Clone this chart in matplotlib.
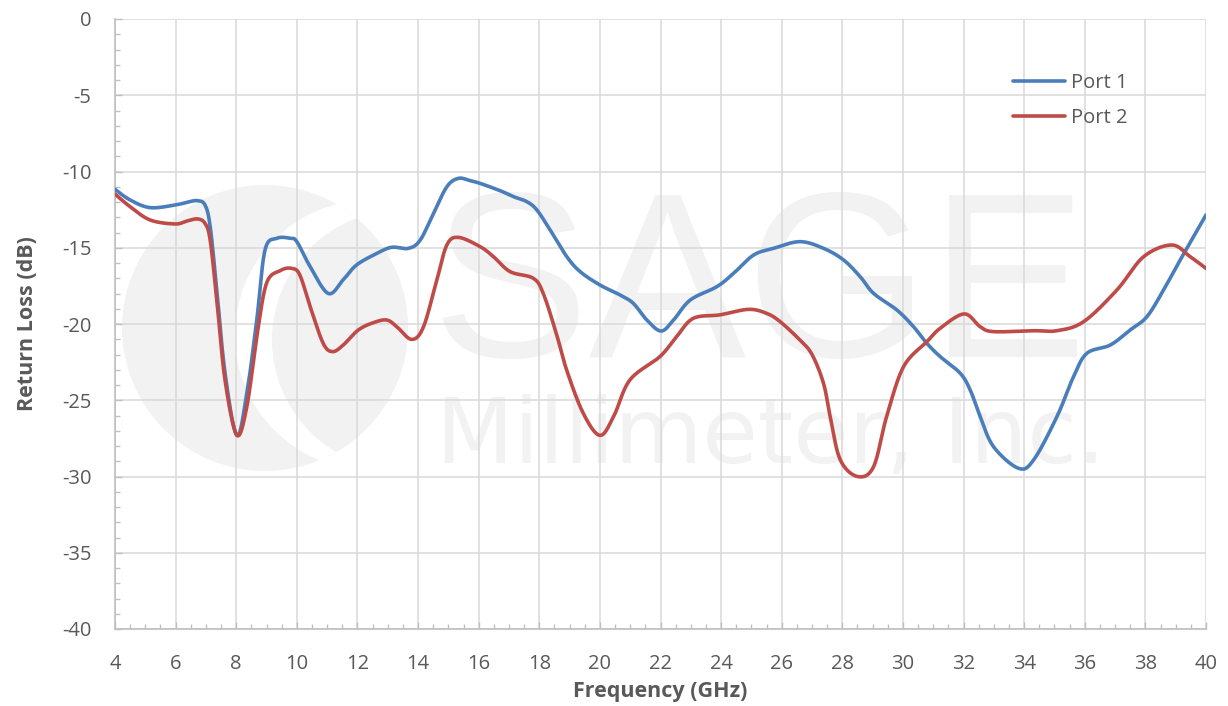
import numpy as np
import matplotlib
matplotlib.use("Agg")
import matplotlib.pyplot as plt
from matplotlib.patches import Circle
from matplotlib.ticker import MultipleLocator, FixedLocator

# Measured return loss, port 1 (frequency in GHz, return loss in dB)
port1_freq = [4.0, 4.5, 5.16, 5.98, 6.37, 6.72, 6.97, 7.14, 7.36, 7.63, 8.02, 8.35,
              8.68, 8.95, 9.34, 9.78, 10.0, 10.44, 11.04, 11.53, 11.97, 12.64, 13.13,
              13.68, 14.07, 14.51, 14.95, 15.33, 15.72, 16.05, 16.71, 17.15, 17.59,
              17.92, 18.36, 18.91, 19.35, 20.0, 20.67, 21.1, 21.55, 22.02, 22.43,
              22.98, 23.86, 24.41, 25.07, 25.73, 26.6, 27.38, 28.04, 28.59, 29.03,
              29.8, 30.35, 30.79, 31.23, 31.89, 32.22, 32.55, 32.99, 33.81, 34.31,
              35.08, 35.63, 36.07, 36.84, 37.5, 38.05, 38.6, 39.15, 40.0]
port1_rl = [-11.17, -11.87, -12.37, -12.2, -12.02, -11.91, -12.2, -13.6, -17.8, -23.2,
            -27.3, -24.55, -19.7, -15.15, -14.38, -14.38, -14.6, -16.24, -18.0, -17.1,
            -16.13, -15.37, -14.97, -15.04, -14.5, -12.74, -11.0, -10.45, -10.6,
            -10.78, -11.26, -11.65, -11.98, -12.52, -13.84, -15.59, -16.57, -17.44,
            -18.1, -18.64, -19.74, -20.46, -19.74, -18.43, -17.55, -16.68, -15.48,
            -15.04, -14.6, -15.04, -15.8, -16.9, -17.99, -19.08, -20.18, -21.27,
            -22.14, -23.23, -24.33, -26.08, -28.05, -29.46, -28.92, -26.08, -23.45,
            -21.92, -21.38, -20.39, -19.52, -17.77, -15.8, -12.85]

# Measured return loss, port 2
port2_freq = [4.0, 4.5, 5.16, 5.98, 6.37, 6.72, 6.97, 7.14, 7.36, 7.63, 8.02, 8.35,
              8.68, 9.0, 9.45, 9.83, 10.1, 10.44, 10.87, 11.18, 11.53, 12.03, 12.53,
              12.97, 13.3, 13.79, 14.18, 14.62, 14.95, 15.33, 16.05, 16.49, 17.04,
              17.8, 18.13, 18.56, 18.9, 19.45, 20.0, 20.45, 20.99, 21.98, 22.53,
              23.08, 23.96, 24.9, 25.5, 25.95, 26.6, 27.0, 27.38, 27.6, 27.93, 28.5,
              29.03, 29.46, 30.02, 30.79, 31.23, 32.02, 32.55, 32.99, 34.31, 35.08,
              35.96, 37.06, 37.94, 38.87, 39.48, 40.0]
port2_rl = [-11.48, -12.31, -13.18, -13.44, -13.25, -13.11, -13.4, -14.49, -18.43,
            -23.67, -27.28, -25.42, -20.83, -17.33, -16.5, -16.35, -16.79, -18.87,
            -21.27, -21.81, -21.38, -20.39, -19.91, -19.74, -20.18, -21.01, -20.18,
            -17.11, -14.82, -14.32, -14.93, -15.59, -16.57, -17.0, -17.99, -20.61,
            -23.0, -25.85, -27.3, -26.08, -23.67, -22.14, -20.83, -19.63, -19.4,
            -19.04, -19.3, -19.85, -21.05, -22.0, -23.9, -26.08, -28.9, -30.0,
            -29.36, -26.08, -22.8, -21.16, -20.28, -19.34, -20.18, -20.5, -20.44,
            -20.44, -19.85, -17.77, -15.59, -14.82, -15.59, -16.35]

series_names = ["Port 1", "Port 2"]
series_colors = ["#4A7EBB", "#BE4B48"]
x_ticks = list(range(4, 41, 2))
y_ticks = list(range(-40, 1, 5))


def smooth_curve(x, y, steps=16):
    """Catmull-Rom spline through the points (smoothed line rendering)."""
    p = np.column_stack([x, y]).astype(float)
    p = np.vstack([p[0], p, p[-1]])
    t = np.linspace(0, 1, steps, endpoint=False)[:, None]
    out = []
    for i in range(1, len(p) - 2):
        p0, p1, p2, p3 = p[i - 1], p[i], p[i + 1], p[i + 2]
        seg = 0.5 * ((2 * p1) + (-p0 + p2) * t
                     + (2 * p0 - 5 * p1 + 4 * p2 - p3) * t ** 2
                     + (-p0 + 3 * p1 - 3 * p2 + p3) * t ** 3)
        out.append(seg)
    out.append(p[-2][None, :])
    out = np.vstack(out)
    return out[:, 0], out[:, 1]


plt.rcParams["font.family"] = ["Open Sans", "DejaVu Sans"]
plt.rcParams["axes.unicode_minus"] = False

W, H = 1228, 706
fig = plt.figure(figsize=(W / 100, H / 100), dpi=100)
ax = fig.add_axes([115 / W, 1 - 629 / H, (1206 - 115) / W, (629 - 19) / H])

# Company watermark behind the grid
inch = fig.dpi_scale_trans
wm_color = "#F2F2F2"
outer = Circle((265 / 100, (H - 328) / 100), 1.43, transform=inch,
               facecolor=wm_color, edgecolor="none", zorder=0.1)
ax.add_patch(outer)
band = Circle((370 / 100, (H - 335) / 100), 1.35, transform=inch,
              facecolor="white", edgecolor="none", zorder=0.15)
ax.add_patch(band)
band.set_clip_path(outer)
lobe = Circle((402 / 100, (H - 340) / 100), 1.30, transform=inch,
              facecolor=wm_color, edgecolor="none", zorder=0.2)
ax.add_patch(lobe)
lobe.set_clip_path(outer)
ax.text(431 / 100, (H - 357) / 100, "SAGE", transform=inch, fontsize=170,
        family="Liberation Sans", color=wm_color, ha="left", va="baseline",
        zorder=0.2)
ax.text(436 / 100, (H - 463) / 100, "Millimeter, Inc.", transform=inch,
        fontsize=65, family="DejaVu Sans", color=wm_color, ha="left",
        va="baseline", zorder=0.2)

for fx, fy, name, col in [(port1_freq, port1_rl, series_names[0], series_colors[0]),
                          (port2_freq, port2_rl, series_names[1], series_colors[1])]:
    sx, sy = smooth_curve(fx, fy)
    ax.plot(sx, sy, color=col, lw=2.6, label=name, solid_capstyle="round",
            solid_joinstyle="round", zorder=3)

ax.set_xlim(4, 40)
ax.set_ylim(-40, 0)
ax.xaxis.set_major_locator(FixedLocator(x_ticks))
ax.yaxis.set_major_locator(FixedLocator(y_ticks))
ax.xaxis.set_minor_locator(MultipleLocator(0.5))
ax.yaxis.set_minor_locator(MultipleLocator(1))

ax.set_axisbelow(True)
ax.grid(True, which="major", color="#D9D9D9", lw=1.1)
for s in ["top", "right"]:
    ax.spines[s].set_visible(False)
for s in ["left", "bottom"]:
    ax.spines[s].set_color("#BFBFBF")
    ax.spines[s].set_linewidth(1.2)

ax.tick_params(which="both", direction="in", color="#BFBFBF", width=1.0,
               labelcolor="#595959", labelsize=14.5)
ax.tick_params(which="major", length=5)
ax.tick_params(which="minor", length=3.5)
ax.tick_params(axis="y", which="major", pad=17)
ax.tick_params(axis="x", which="major", pad=18)

ax.set_xlabel("Frequency (GHz)", fontsize=15.5, fontweight="bold",
              color="#595959", labelpad=5)
ax.set_ylabel("Return Loss (dB)", fontsize=15.5, fontweight="bold",
              color="#595959", labelpad=17)

ax.legend(loc="upper left", bbox_to_anchor=(0.823, 0.912), frameon=False,
          fontsize=14.5, handlelength=2.6, handletextpad=0.3,
          labelspacing=0.75, borderpad=0, borderaxespad=0,
          labelcolor="#595959")

fig.savefig("out.png", dpi=100, facecolor="white")
